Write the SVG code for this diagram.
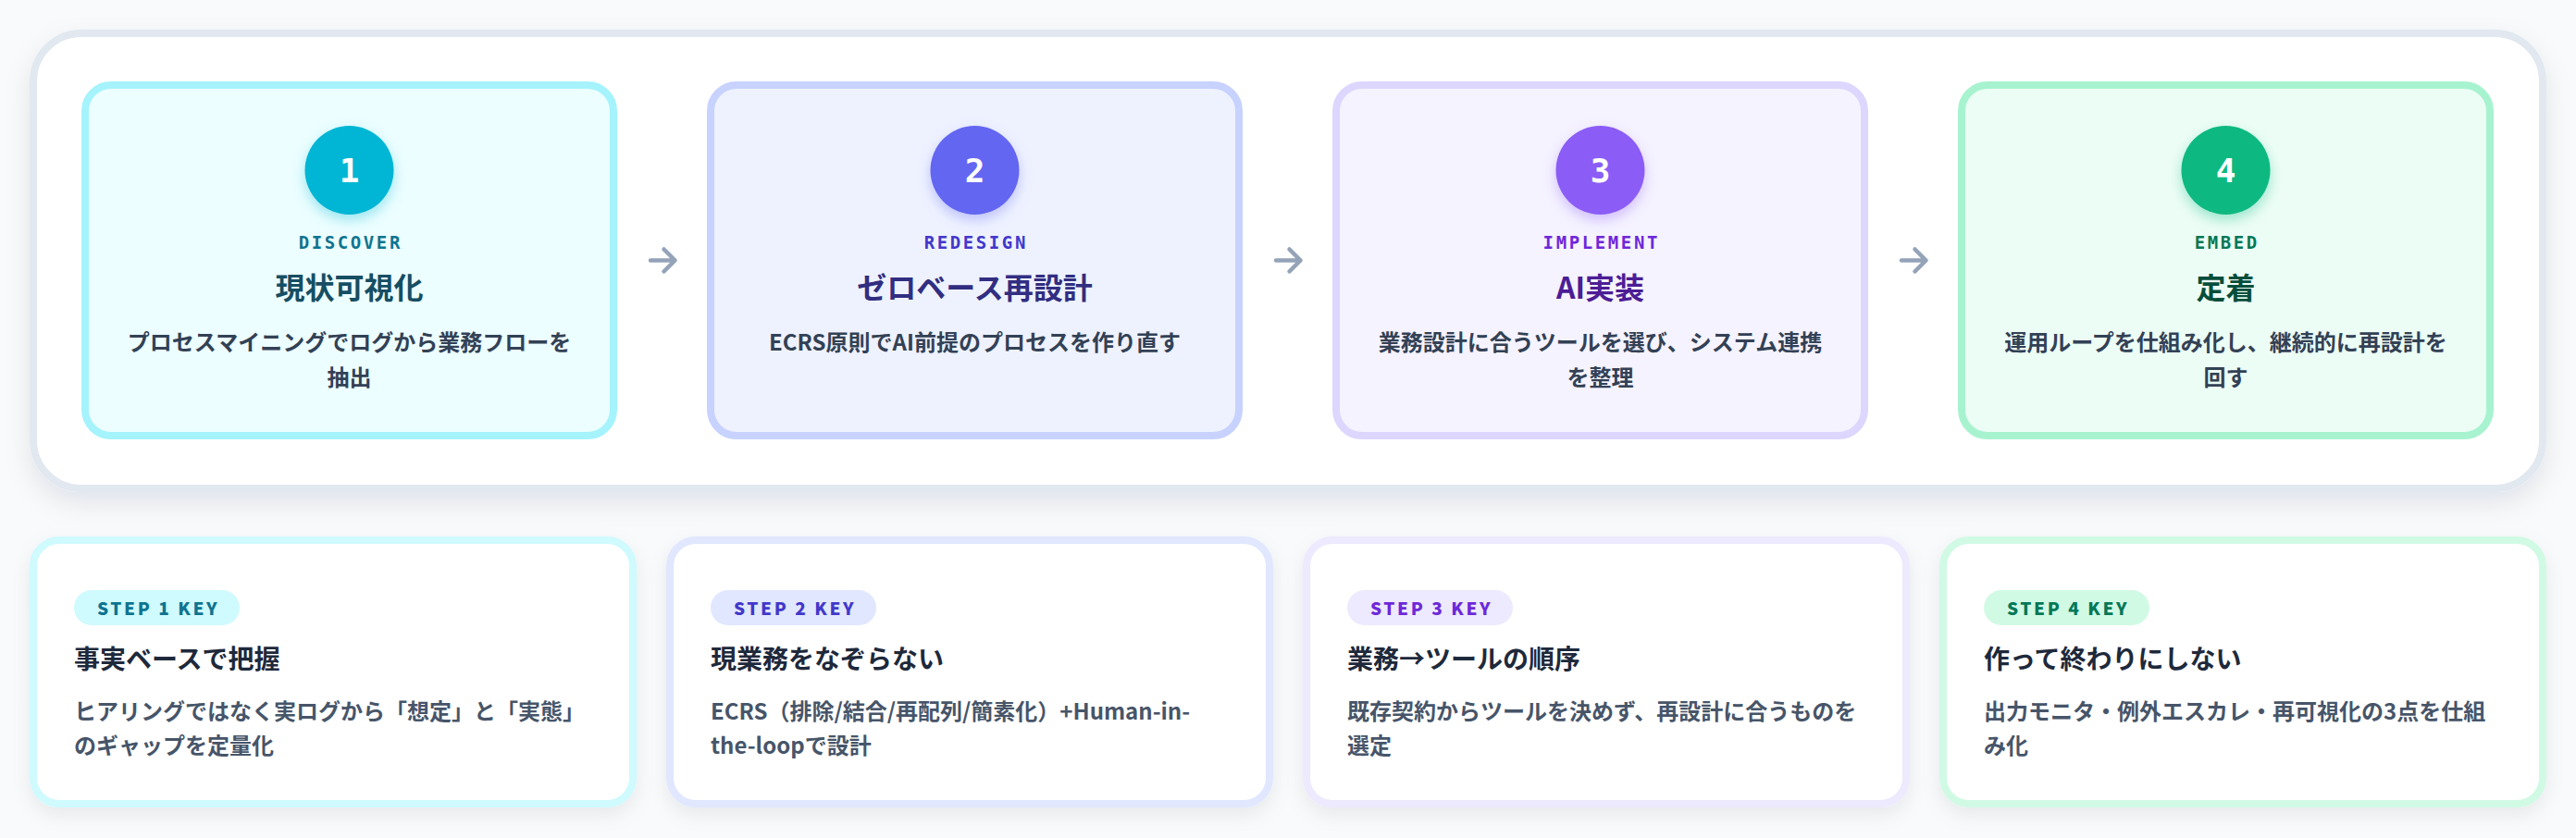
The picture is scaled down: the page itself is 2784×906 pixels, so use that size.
<svg xmlns="http://www.w3.org/2000/svg" width="2784" height="906" viewBox="0 0 2784 906">
<defs>
<style>
.jp{font-family:'Noto Sans CJK JP','Noto Sans',sans-serif;}
.mono{font-family:'DejaVu Sans Mono','Liberation Mono',monospace;font-weight:700;}
.num{font-size:36px;fill:#ffffff;text-anchor:middle;}
.tag{font-size:19px;letter-spacing:2.6px;text-anchor:middle;}
.ttl{font-size:32px;font-weight:700;text-anchor:middle;}
.desc{font-size:24px;font-weight:700;fill:#334155;text-anchor:middle;}
.pilltxt{font-size:19px;font-weight:900;letter-spacing:2.6px;}
.ktitle{font-size:28px;font-weight:700;fill:#1e293b;}
.kdesc{font-size:24px;font-weight:700;fill:#475569;}
.arrow{fill:none;stroke:#94a3b8;stroke-width:4.5;stroke-linecap:round;stroke-linejoin:round;}
</style>
<filter id="shBig" x="-10%" y="-20%" width="120%" height="150%">
<feDropShadow dx="0" dy="12" stdDeviation="14" flood-color="#0f172a" flood-opacity="0.09"/>
</filter>
<filter id="shCard" x="-10%" y="-20%" width="120%" height="150%">
<feDropShadow dx="0" dy="8" stdDeviation="10" flood-color="#0f172a" flood-opacity="0.07"/>
</filter>
<filter id="g1" x="-50%" y="-50%" width="200%" height="200%"><feDropShadow dx="0" dy="6" stdDeviation="7" flood-color="#06b6d4" flood-opacity="0.35"/></filter>
<filter id="g2" x="-50%" y="-50%" width="200%" height="200%"><feDropShadow dx="0" dy="6" stdDeviation="7" flood-color="#6366f1" flood-opacity="0.35"/></filter>
<filter id="g3" x="-50%" y="-50%" width="200%" height="200%"><feDropShadow dx="0" dy="6" stdDeviation="7" flood-color="#8b5cf6" flood-opacity="0.35"/></filter>
<filter id="g4" x="-50%" y="-50%" width="200%" height="200%"><feDropShadow dx="0" dy="6" stdDeviation="7" flood-color="#10b981" flood-opacity="0.35"/></filter>
</defs>
<rect width="2784" height="906" fill="#f8fafc"/>

<g id="container">
<rect x="36" y="36" width="2712" height="492" rx="52" fill="#ffffff" stroke="#e2e8f0" stroke-width="8" filter="url(#shBig)"/>
</g>

<g id="step1">
<rect x="92" y="92" width="571" height="379" rx="28" fill="#ecfeff" stroke="#a5f3fc" stroke-width="8"/>
<circle cx="377.5" cy="184" r="48" fill="#06b6d4" filter="url(#g1)"/>
<text class="mono num" x="377.5" y="197">1</text>
<text class="mono tag" x="378.8" y="269" fill="#0e7490">DISCOVER</text>
<text class="jp ttl" x="377.5" y="323" fill="#164e63">現状可視化</text>
<text class="jp desc" x="377.5" y="379">プロセスマイニングでログから業務フローを</text>
<text class="jp desc" x="377.5" y="417">抽出</text>
</g>

<g id="step2">
<rect x="768" y="92" width="571" height="379" rx="28" fill="#eef2ff" stroke="#c7d2fe" stroke-width="8"/>
<circle cx="1053.5" cy="184" r="48" fill="#6366f1" filter="url(#g2)"/>
<text class="mono num" x="1053.5" y="197">2</text>
<text class="mono tag" x="1054.8" y="269" fill="#4338ca">REDESIGN</text>
<text class="jp ttl" x="1053.5" y="323" fill="#312e81">ゼロベース再設計</text>
<text class="jp desc" x="1053.5" y="379">ECRS原則でAI前提のプロセスを作り直す</text>
</g>

<g id="step3">
<rect x="1444" y="92" width="571" height="379" rx="28" fill="#f5f3ff" stroke="#ddd6fe" stroke-width="8"/>
<circle cx="1729.5" cy="184" r="48" fill="#8b5cf6" filter="url(#g3)"/>
<text class="mono num" x="1729.5" y="197">3</text>
<text class="mono tag" x="1730.8" y="269" fill="#6d28d9">IMPLEMENT</text>
<text class="jp ttl" x="1729.5" y="323" fill="#4c1d95">AI実装</text>
<text class="jp desc" x="1729.5" y="379">業務設計に合うツールを選び、システム連携</text>
<text class="jp desc" x="1729.5" y="417">を整理</text>
</g>

<g id="step4">
<rect x="2120" y="92" width="571" height="379" rx="28" fill="#ecfdf5" stroke="#a7f3d0" stroke-width="8"/>
<circle cx="2405.5" cy="184" r="48" fill="#10b981" filter="url(#g4)"/>
<text class="mono num" x="2405.5" y="197">4</text>
<text class="mono tag" x="2406.8" y="269" fill="#047857">EMBED</text>
<text class="jp ttl" x="2405.5" y="323" fill="#064e3b">定着</text>
<text class="jp desc" x="2405.5" y="379">運用ループを仕組み化し、継続的に再設計を</text>
<text class="jp desc" x="2405.5" y="417">回す</text>
</g>

<g id="connectors">
<path class="arrow" d="M703 281.5H729.5M717.5 269.5L729.5 281.5L717.5 293.5"/>
<path class="arrow" d="M1379 281.5H1405.5M1393.5 269.5L1405.5 281.5L1393.5 293.5"/>
<path class="arrow" d="M2055 281.5H2081.5M2069.5 269.5L2081.5 281.5L2069.5 293.5"/>
</g>

<g id="key1">
<rect x="36" y="584" width="648" height="285" rx="28" fill="#ffffff" stroke="#cffafe" stroke-width="8" filter="url(#shCard)"/>
<rect x="80" y="638" width="179" height="38" rx="19" fill="#cffafe"/>
<text class="jp pilltxt" x="105" y="665" fill="#0e7490">STEP 1 KEY</text>
<text class="jp ktitle" x="80" y="723">事実ベースで把握</text>
<text class="jp kdesc" x="80" y="778">ヒアリングではなく実ログから「想定」と「実態」</text>
<text class="jp kdesc" x="80" y="815">のギャップを定量化</text>
</g>

<g id="key2">
<rect x="724" y="584" width="648" height="285" rx="28" fill="#ffffff" stroke="#e0e7ff" stroke-width="8" filter="url(#shCard)"/>
<rect x="768" y="638" width="179" height="38" rx="19" fill="#e0e7ff"/>
<text class="jp pilltxt" x="793" y="665" fill="#4338ca">STEP 2 KEY</text>
<text class="jp ktitle" x="768" y="723">現業務をなぞらない</text>
<text class="jp kdesc" x="768" y="778">ECRS（排除/結合/再配列/簡素化）+Human-in-</text>
<text class="jp kdesc" x="768" y="815">the-loopで設計</text>
</g>

<g id="key3">
<rect x="1412" y="584" width="648" height="285" rx="28" fill="#ffffff" stroke="#ede9fe" stroke-width="8" filter="url(#shCard)"/>
<rect x="1456" y="638" width="179" height="38" rx="19" fill="#ede9fe"/>
<text class="jp pilltxt" x="1481" y="665" fill="#6d28d9">STEP 3 KEY</text>
<text class="jp ktitle" x="1456" y="723">業務→ツールの順序</text>
<text class="jp kdesc" x="1456" y="778">既存契約からツールを決めず、再設計に合うものを</text>
<text class="jp kdesc" x="1456" y="815">選定</text>
</g>

<g id="key4">
<rect x="2100" y="584" width="648" height="285" rx="28" fill="#ffffff" stroke="#d1fae5" stroke-width="8" filter="url(#shCard)"/>
<rect x="2144" y="638" width="179" height="38" rx="19" fill="#d1fae5"/>
<text class="jp pilltxt" x="2169" y="665" fill="#047857">STEP 4 KEY</text>
<text class="jp ktitle" x="2144" y="723">作って終わりにしない</text>
<text class="jp kdesc" x="2144" y="778">出力モニタ・例外エスカレ・再可視化の3点を仕組</text>
<text class="jp kdesc" x="2144" y="815">み化</text>
</g>
</svg>
